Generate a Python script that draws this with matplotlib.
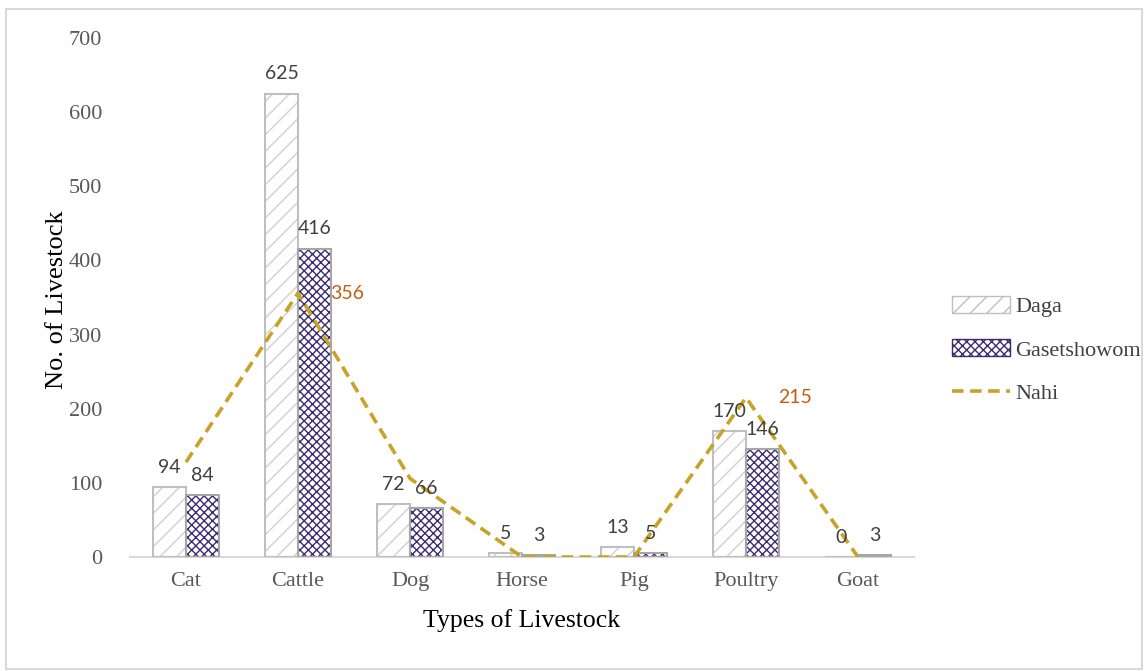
import matplotlib
matplotlib.use("Agg")
import matplotlib.pyplot as plt
import numpy as np
from matplotlib.patches import Rectangle, Patch
from matplotlib.lines import Line2D

categories = ["Cat", "Cattle", "Dog", "Horse", "Pig", "Poultry", "Goat"]
daga = [94, 625, 72, 5, 13, 170, 0]
gasetshowom = [84, 416, 66, 3, 5, 146, 3]
nahi = [128, 356, 106, 0, 0, 215, 0]
nahi_labeled = {"Cattle": 356, "Poultry": 215}
y_ticks = [0, 100, 200, 300, 400, 500, 600, 700]

plt.rcParams['hatch.linewidth'] = 1.0
serif = ['Liberation Serif', 'DejaVu Serif']
sans = ['Lato', 'DejaVu Sans']

fig = plt.figure(figsize=(11.47, 6.71), dpi=100)
ax = fig.add_axes([130/1147, 1-557/671, 784/1147, 519/671])

x = np.arange(len(categories))
w = 0.295
edge = '#BFBFBF'
purple = '#3A2C6E'
# Daga bars
ax.bar(x - w/2, daga, w, color='white', edgecolor='#D0D0D0', hatch='//', linewidth=0, zorder=2)
ax.bar(x - w/2, daga, w, color='none', edgecolor=edge, linewidth=1.5, zorder=3)
# Gasetshowom bars
ax.bar(x + w/2, gasetshowom, w, color='white', edgecolor=purple, hatch='xxxx', linewidth=0, zorder=2)
ax.bar(x + w/2, gasetshowom, w, color='none', edgecolor='#A6A6A6', linewidth=1.5, zorder=3)
# Nahi line
nahi_color = '#C9A227'
dash = (0, (3.2, 1.8))
ax.plot(x, nahi, color=nahi_color, linestyle=dash, linewidth=2.6, zorder=4)

lab_col = '#404040'
for i in range(len(categories)):
    ax.annotate(str(daga[i]), (x[i] - w/2, daga[i]), xytext=(0, 8), textcoords='offset points',
                ha='center', va='bottom', fontsize=14, family=sans, color=lab_col, zorder=5)
    ax.annotate(str(gasetshowom[i]), (x[i] + w/2, gasetshowom[i]), xytext=(0, 8), textcoords='offset points',
                ha='center', va='bottom', fontsize=14, family=sans, color=lab_col, zorder=5)
for i, c in enumerate(categories):
    if c in nahi_labeled:
        ax.annotate(str(nahi_labeled[c]), (x[i], nahi[i]), xytext=(23, 0), textcoords='offset points',
                    ha='left', va='center', fontsize=14, family=sans, color='#C55A11', zorder=5)

ax.set_xlim(-0.5, len(categories) - 0.5)
ax.set_ylim(0, 700)
ax.set_yticks(y_ticks)
ax.set_xticks(x)
ax.set_xticklabels(categories)
for s in ['top', 'right', 'left']:
    ax.spines[s].set_visible(False)
ax.spines['bottom'].set_color('#D9D9D9')
ax.spines['bottom'].set_linewidth(1.5)
ax.tick_params(axis='both', length=0, labelsize=16, labelcolor='#595959')
ax.tick_params(axis='x', pad=11)
ax.tick_params(axis='y', pad=20)
for t in ax.get_xticklabels() + ax.get_yticklabels():
    t.set_family(serif)

fig.text(57/1147, 1-300/671, "No. of Livestock", rotation=90, ha='center', va='center',
         fontsize=19, family=serif, color='black')
fig.text(522/1147, 1-621/671, "Types of Livestock", ha='center', va='center',
         fontsize=18.5, family=serif, color='black')

handles = [
    Patch(facecolor='white', edgecolor='#BFBFBF', hatch='//', linewidth=1.0),
    Patch(facecolor='white', edgecolor=purple, hatch='xxxx', linewidth=1.0),
    Line2D([0], [0], color=nahi_color, linestyle=dash, linewidth=2.6),
]
leg = fig.legend(handles, ["Daga", "Gasetshowom", "Nahi"], loc='upper left',
                 bbox_to_anchor=(943/1147, 1-287/671), frameon=False,
                 prop={'family': serif, 'size': 16}, labelspacing=1.0,
                 handlelength=2.6, handleheight=0.8, handletextpad=0.25, borderaxespad=0)
for t in leg.get_texts():
    t.set_color('#404040')

fig.patches.append(Rectangle((6/1147, 2/671), 1136/1147, 660/671, transform=fig.transFigure,
                             fill=False, edgecolor='#D9D9D9', linewidth=1.5))

fig.savefig("out.png", dpi=100)
